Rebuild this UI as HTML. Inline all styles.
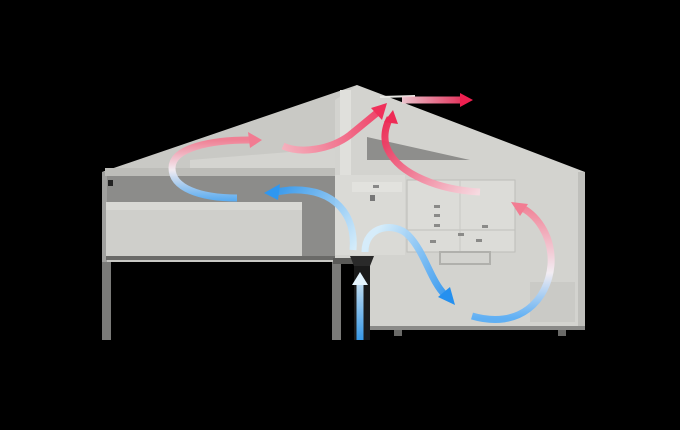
<!DOCTYPE html>
<html><head><style>html,body{margin:0;padding:0;background:#000;}svg{display:block}</style></head>
<body>
<svg width="680" height="430" viewBox="0 0 680 430" xmlns="http://www.w3.org/2000/svg">
<defs>
<linearGradient id="g1" gradientUnits="userSpaceOnUse" x1="0" y1="200" x2="0" y2="140"><stop offset="0" stop-color="#5aaef5"/><stop offset="0.5" stop-color="#f4eef4"/><stop offset="1" stop-color="#f27c92"/></linearGradient>
<linearGradient id="g2" gradientUnits="userSpaceOnUse" x1="355" y1="250" x2="270" y2="192"><stop offset="0" stop-color="#d6eefc"/><stop offset="1" stop-color="#2f97f0"/></linearGradient>
<linearGradient id="g3" gradientUnits="userSpaceOnUse" x1="280" y1="148" x2="390" y2="106"><stop offset="0" stop-color="#f7b3c0"/><stop offset="1" stop-color="#f0305a"/></linearGradient>
<linearGradient id="g4" gradientUnits="userSpaceOnUse" x1="480" y1="192" x2="393" y2="115"><stop offset="0" stop-color="#f8dbe2"/><stop offset="1" stop-color="#ee2a55"/></linearGradient>
<linearGradient id="g5" gradientUnits="userSpaceOnUse" x1="400" y1="0" x2="472" y2="0"><stop offset="0" stop-color="#f8d3dc"/><stop offset="1" stop-color="#ee2050"/></linearGradient>
<linearGradient id="g6" gradientUnits="userSpaceOnUse" x1="365" y1="250" x2="452" y2="302"><stop offset="0" stop-color="#d6eefc"/><stop offset="1" stop-color="#2590ef"/></linearGradient>
<linearGradient id="g7" gradientUnits="userSpaceOnUse" x1="0" y1="318" x2="0" y2="205"><stop offset="0" stop-color="#5aaef5"/><stop offset="0.4" stop-color="#f4eef4"/><stop offset="1" stop-color="#f27c92"/></linearGradient>
<linearGradient id="g8" gradientUnits="userSpaceOnUse" x1="0" y1="340" x2="0" y2="272"><stop offset="0" stop-color="#3aa0f2"/><stop offset="1" stop-color="#e4f4fe"/></linearGradient>
</defs>
<rect width="680" height="430" fill="#000"/>
<rect x="102" y="258" width="9" height="82" fill="#7a7a78"/>
<rect x="332" y="258" width="9" height="82" fill="#7a7a78"/>
<rect x="354" y="262" width="16" height="78" fill="#1a1a1a"/>
<rect x="394" y="328" width="8" height="8" fill="#6a6a68"/>
<rect x="558" y="328" width="8" height="8" fill="#6a6a68"/>
<polygon points="102,172 357,85 357,262 102,262" fill="#c9c9c5"/>
<rect x="105" y="176" width="232" height="82" fill="#8c8c8a"/>
<rect x="102" y="172" width="5" height="90" fill="#a0a09e"/>
<rect x="108" y="180" width="5" height="6" fill="#222"/>
<polygon points="190,160 340,148 340,168 190,168" fill="#d4d4d0"/>
<rect x="105" y="168" width="235" height="8" fill="#bdbdb9"/>
<rect x="106" y="202" width="196" height="54" fill="#cfcfcb"/>
<rect x="106" y="202" width="196" height="8" fill="#d8d8d4"/>
<rect x="106" y="256" width="232" height="4" fill="#6a6a68"/>
<polygon points="335,100 357,85 585,172 585,330 370,330 370,262 335,262" fill="#d3d3cf"/>
<polygon points="367,137 470,160 367,160" fill="#8e8e8c"/>
<rect x="340" y="90" width="11" height="162" fill="#e0e0dc"/>
<rect x="335" y="175" width="70" height="80" fill="#dadad6"/>
<rect x="352" y="182" width="50" height="10" fill="#e2e2de"/>
<rect x="373" y="185" width="6" height="3" fill="#888"/>
<rect x="370" y="195" width="5" height="6" fill="#777"/>
<rect x="407" y="180" width="108" height="72" fill="#dcdcd8" stroke="#bdbdb9"/>
<line x1="407" y1="230" x2="515" y2="230" stroke="#c0c0bc"/>
<line x1="460" y1="180" x2="460" y2="252" stroke="#c8c8c4"/>
<g fill="#8a8a88"><rect x="434" y="205" width="6" height="3"/><rect x="434" y="214" width="6" height="3"/><rect x="434" y="224" width="6" height="3"/><rect x="482" y="225" width="6" height="3"/><rect x="458" y="233" width="6" height="3"/><rect x="430" y="240" width="6" height="3"/><rect x="476" y="239" width="6" height="3"/></g>
<rect x="440" y="252" width="50" height="12" fill="none" stroke="#b0b0ac" stroke-width="2"/>
<rect x="530" y="282" width="45" height="40" fill="#cacac6"/>
<rect x="578" y="172" width="7" height="158" fill="#c0c0bc"/>
<rect x="370" y="326" width="215" height="4" fill="#8a8a88"/>
<rect x="333" y="258" width="37" height="6" fill="#5a5a58"/>
<polygon points="350,256 374,256 370,266 354,266" fill="#2a2a2a"/>
<line x1="380" y1="97" x2="415" y2="96" stroke="#e8e8e4" stroke-width="2"/>
<g fill="none" stroke-width="7" stroke-linecap="butt" opacity="0.95">
<path d="M237,198 C200,198 172,188 172,168 C172,148 210,140 250,140" stroke="url(#g1)"/>
<path d="M353,250 C356,215 335,188 290,190 L275,192" stroke="url(#g2)"/>
<path d="M283,146 C300,154 330,150 350,135 L378,112" stroke="url(#g3)"/>
<path d="M480,192 C440,190 400,175 388,150 C382,138 386,125 390,118" stroke="url(#g4)"/>
<path d="M402,100 L462,100" stroke="url(#g5)"/>
<path d="M365,252 C365,225 395,222 408,235 C425,252 430,280 445,295" stroke="url(#g6)"/>
<path d="M472,316 C520,330 548,300 551,265 C553,235 535,213 520,207" stroke="url(#g7)"/>
<path d="M360,340 L360,282" stroke="url(#g8)"/>
</g>
<polygon points="262,140 248,132 250,148" fill="#f27c92"/>
<polygon points="264,193 280,184 278,200" fill="#2f97f0"/>
<polygon points="387,103 371,108 382,120" fill="#f0305a"/>
<polygon points="393,110 384,122 398,124" fill="#ee2a55"/>
<polygon points="473,100 460,93 460,107" fill="#ee2050"/>
<polygon points="455,305 438,297 450,287" fill="#2590ef"/>
<polygon points="511,202 528,204 520,216" fill="#f27c92"/>
<polygon points="360,272 352,285 368,285" fill="#e4f4fe"/>
</svg>
</body></html>
